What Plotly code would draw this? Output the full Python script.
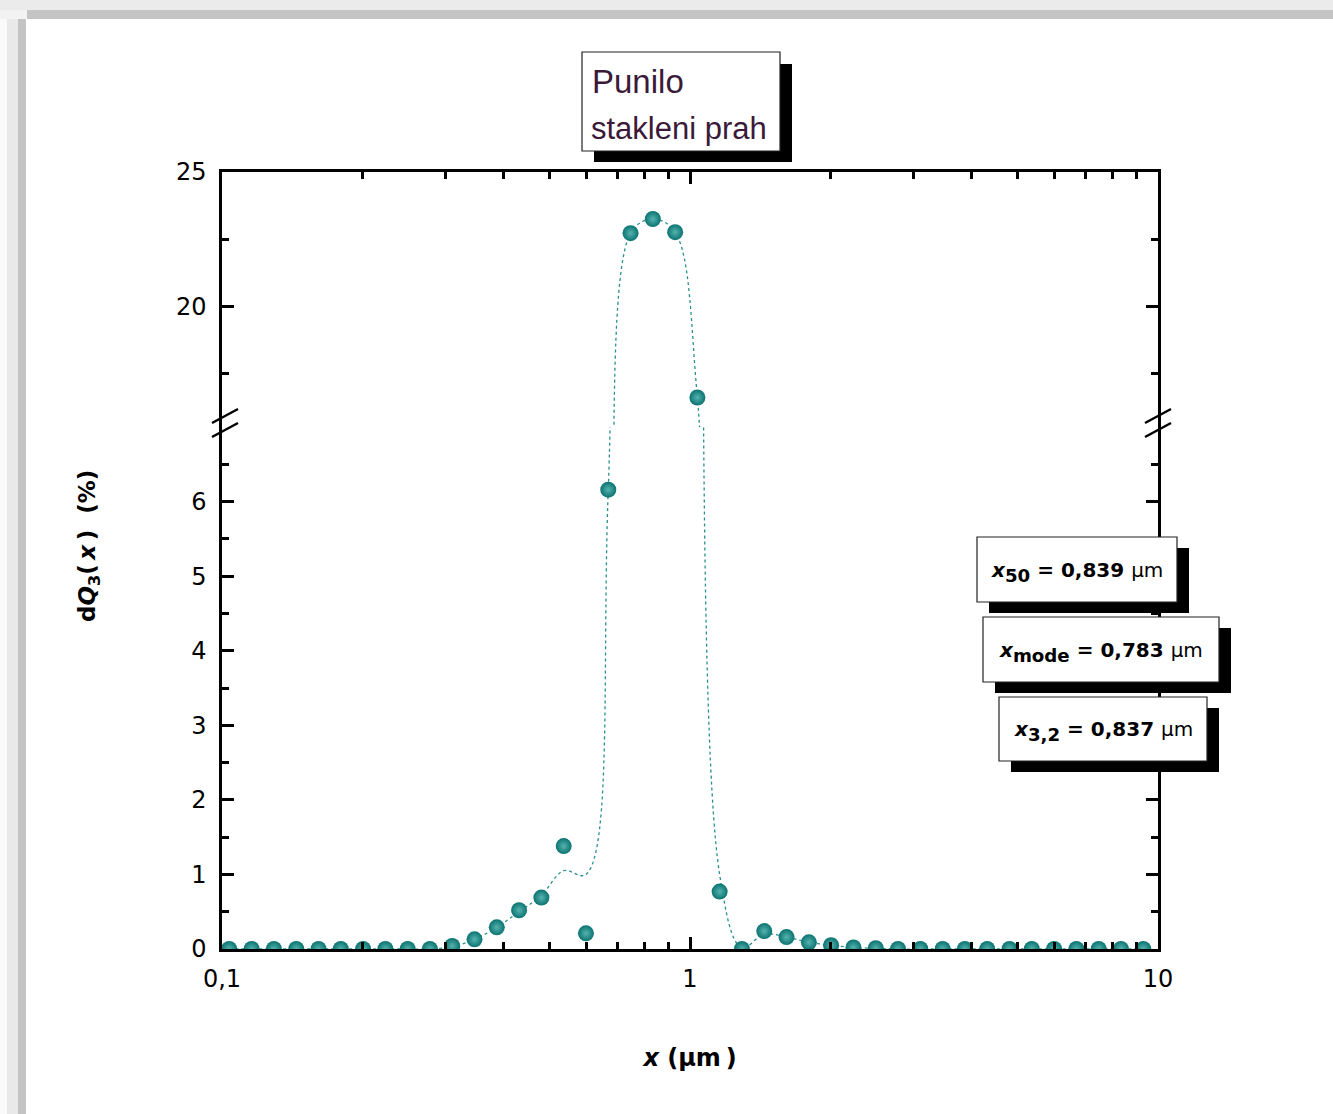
import plotly.graph_objects as go

# ---------------- data ----------------
x_um = [0.1036, 0.1157, 0.1291, 0.1441, 0.1608, 0.1794, 0.2002, 0.2234, 0.2493, 0.2781,
        0.3104, 0.3464, 0.3865, 0.4313, 0.4813, 0.5372, 0.5994, 0.6689, 0.7464, 0.8329,
        0.9295, 1.037, 1.157, 1.291, 1.441, 1.608, 1.795, 2.002, 2.235, 2.494,
        2.783, 3.106, 3.466, 3.867, 4.316, 4.816, 5.374, 5.998, 6.693, 7.469,
        8.333, 9.300]

dq3_points = [0, 0, 0, 0, 0, 0, 0, 0, 0, 0,
              0.04, 0.13, 0.29, 0.52, 0.69, 1.38, 0.21, 6.16, 22.72, 23.25,
              22.76, 16.6, 0.77, 0.0, 0.24, 0.16, 0.09, 0.05, 0.02, 0.01,
              0, 0, 0, 0, 0, 0, 0, 0, 0, 0,
              0, 0]

# dotted smoothing curve (same x positions)
dq3_curve = [0, 0, 0, 0, 0, 0, 0, 0, 0, 0,
             0.03, 0.13, 0.29, 0.50, 0.72, 1.05, 1.0, 6.16, 22.72, 23.25,
             22.76, 16.6, 1.0, 0.02, 0.20, 0.16, 0.09, 0.05, 0.02, 0.01,
             0, 0, 0, 0, 0, 0, 0, 0, 0, 0,
             0, 0]

x_major = [0.1, 1, 10]
x_major_text = ["0,1", "1", "10"]
x_minor = [0.2, 0.3, 0.4, 0.5, 0.6, 0.7, 0.8, 0.9, 2, 3, 4, 5, 6, 7, 8, 9]

y_low_major = [0, 1, 2, 3, 4, 5, 6]
y_low_minor = [0.5, 1.5, 2.5, 3.5, 4.5, 5.5, 6.5]
y_low_range = [0, 7]
y_up_major = [20, 25]
y_up_minor = [17.5, 22.5]
y_up_range = [15.5, 25]

title_lines = ["Punilo", "stakleni prah"]
stat_names = ["50", "mode", "3,2"]
stat_values = ["0,839", "0,783", "0,837"]
x_title = "<b><i>x</i> (µm\u2009)</b>"
y_title = "<b>d<i>Q</i><sub>3</sub>(\u2009<i>x</i>\u2009)  (%)</b>"

# ---------------- geometry helpers (pixels -> paper) ----------------
FW, FH = 1333, 1114
L, R, T, B = 222, 1158, 172, 949
W, H = R - L, B - T


def px(xp):
    return (xp - L) / W


def py(yp):
    return (B - yp) / H


split = py(427)

TEAL = "#0b7371"
LINE_TEAL = "#2a8f8c"

fig = go.Figure()
for xa, ya in (("x", "y"), ("x2", "y2")):
    fig.add_trace(go.Scatter(
        x=x_um, y=dq3_curve, mode="lines", xaxis=xa, yaxis=ya,
        line=dict(shape="spline", smoothing=1.0, dash="dot", width=1.3, color=LINE_TEAL),
        hoverinfo="skip", showlegend=False, cliponaxis=True))
    fig.add_trace(go.Scatter(
        x=x_um, y=dq3_points, mode="markers", xaxis=xa, yaxis=ya,
        marker=dict(size=16, color=TEAL, line=dict(width=0),
                    gradient=dict(type="radial", color="#55b3ae")),
        showlegend=False, cliponaxis=True))

axis_common = dict(showline=True, linewidth=2.5, linecolor="black",
                   ticks="inside", ticklen=12, tickwidth=2.5, tickcolor="black",
                   showgrid=False, zeroline=False,
                   tickfont=dict(family="DejaVu Sans", size=24, color="black"))
minor_common = dict(tickmode="array", ticks="inside", ticklen=7, tickwidth=2.5,
                    tickcolor="black")

fig.update_layout(
    width=FW, height=FH, template="none",
    paper_bgcolor="white", plot_bgcolor="white",
    margin=dict(l=L, r=FW - R, t=T, b=FH - B, autoexpand=False),
    showlegend=False,
    xaxis=dict(type="log", range=[-1, 1], domain=[0, 1], anchor="y",
               tickmode="array", tickvals=x_major, ticktext=x_major_text,
               ticklabelstandoff=6,
               minor=dict(tickvals=x_minor, **minor_common),
               title=dict(text=x_title, standoff=58,
                          font=dict(family="DejaVu Sans", size=24, color="black")),
               **axis_common),
    xaxis2=dict(type="log", range=[-1, 1], domain=[0, 1], anchor="y2", side="top",
                matches="x", tickmode="array", tickvals=x_major, showticklabels=False,
                minor=dict(tickvals=x_minor, **minor_common),
                **axis_common),
    yaxis=dict(range=y_low_range, domain=[0, split], anchor="x", mirror="ticks",
               tickmode="array", tickvals=y_low_major, ticklabelstandoff=8,
               minor=dict(tickvals=y_low_minor, **minor_common),
               **axis_common),
    yaxis2=dict(range=y_up_range, domain=[split, 1], anchor="x2", mirror="ticks",
                tickmode="array", tickvals=y_up_major, ticklabelstandoff=8,
                minor=dict(tickvals=y_up_minor, **minor_common),
                **axis_common),
)

shapes = []


def rect(x0, y0, x1, y1, fill, line_color=None, lw=0, layer="above"):
    shapes.append(dict(type="rect", xref="paper", yref="paper",
                       x0=px(x0), x1=px(x1), y0=py(y1), y1=py(y0),
                       fillcolor=fill, layer=layer,
                       line=dict(color=line_color or fill, width=lw)))


# page frame (grey border at top and left)
rect(0, 0, FW, 10, "#ebebeb", layer="below")
rect(27, 10, FW, 19, "#c4c4c4", layer="below")
rect(0, 10, 27, 19, "#f2f2f2", layer="below")
rect(0, 19, 7, FH, "#fafafa", layer="below")
rect(7, 19, 18, FH, "#e9e9e9", layer="below")
rect(18, 19, 26, FH, "#c4c4c4", layer="below")

# title box with shadow
rect(594, 64, 792, 162, "black")
rect(582, 52, 780, 151, "white", "#222222", 1.2)

# stat boxes with shadow
stat_boxes = [(977, 537, 1177, 602), (983, 617, 1219, 682), (999, 697, 1207, 761)]
for (x0, y0, x1, y1) in stat_boxes:
    rect(x0 + 12, y0 + 11, x1 + 12, y1 + 11, "black")
    rect(x0, y0, x1, y1, "white", "#222222", 1.2)

# axis break marks
for xa in (212, 1145):
    for yo in (0, 14):
        shapes.append(dict(type="line", xref="paper", yref="paper",
                           x0=px(xa), y0=py(423 + yo), x1=px(xa + 26), y1=py(409 + yo),
                           line=dict(color="black", width=2.5), layer="above"))

fig.update_layout(shapes=shapes)

ann = []
ann.append(dict(text=title_lines[0], xref="paper", yref="paper", x=px(590), y=py(81),
                xanchor="left", yanchor="middle", showarrow=False,
                font=dict(family="Liberation Sans", size=33, color="#3a1a38")))
ann.append(dict(text=title_lines[1], xref="paper", yref="paper", x=px(589), y=py(128),
                xanchor="left", yanchor="middle", showarrow=False,
                font=dict(family="Liberation Sans", size=31, color="#3a1a38")))
for (x0, y0, x1, y1), nm, val in zip(stat_boxes, stat_names, stat_values):
    t = ("<span style='font-size:20px'><b><i>x</i></b></span>"
         f"<sub><b>{nm}</b></sub>"
         f"<span style='font-size:20px'><b> = {val} </b>µm</span>")
    ann.append(dict(text=t, xref="paper", yref="paper", x=px((x0 + x1) / 2),
                    y=py((y0 + y1) / 2 + 2), xanchor="center", yanchor="middle",
                    showarrow=False,
                    font=dict(family="DejaVu Sans", size=26, color="black")))
ann.append(dict(text=y_title, xref="paper", yref="paper",
                x=px(89), y=py(546), xanchor="center", yanchor="middle",
                textangle=-90, showarrow=False,
                font=dict(family="DejaVu Sans", size=23, color="black")))
fig.update_layout(annotations=ann)

fig.write_html("out.html", config={"displayModeBar": False},
               post_script="document.body.style.margin='0';document.body.style.padding='0';")
